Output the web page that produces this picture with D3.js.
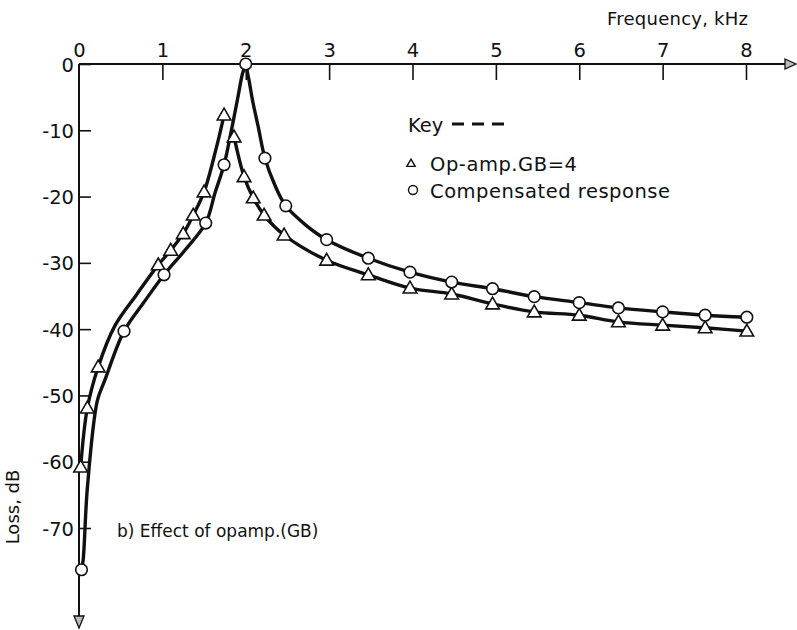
<!DOCTYPE html>
<html>
<head>
<meta charset="utf-8">
<script src="https://cdn.jsdelivr.net/npm/d3@7"></script>
<style>
  body { margin: 0; background: #fff; }
  svg { display: block; }
  text { font-family: "DejaVu Sans", sans-serif; fill: #111; }
</style>
</head>
<body>
<div id="chart"></div>
<script>
// tick values
var freqTicks = [0, 1, 2, 3, 4, 5, 6, 7, 8];
var lossTicks = [0, -10, -20, -30, -40, -50, -60, -70];

// op-amp GB=4 curve (triangles), traced [kHz, dB]
var opampLow = [[0.02,-60.8],[0.10,-51.9],[0.23,-45.7],[0.43,-39.5],[0.69,-34.8],[0.95,-30.3],[1.10,-28.1],
    [1.25,-25.6],[1.37,-22.8],[1.50,-19.3],[1.64,-13.0],[1.74,-7.7]];
var opampHigh = [[1.86,-11.0],[1.98,-17.0],[2.09,-20.2],[2.22,-22.8],[2.46,-25.8],[2.97,-29.6],[3.47,-31.8],
    [3.97,-33.8],[4.47,-34.7],[4.96,-36.2],[5.46,-37.4],[6.0,-37.9],[6.47,-38.9],[7.0,-39.4],[7.51,-39.8],[8.01,-40.3]];
var opampMarks = [[0.02,-60.8],[0.10,-51.9],[0.23,-45.7],[0.95,-30.3],[1.10,-28.1],[1.25,-25.6],[1.37,-22.8],
    [1.50,-19.3],[1.74,-7.7],[1.86,-11.0],[1.98,-17.0],[2.09,-20.2],[2.22,-22.8],[2.46,-25.8],[2.97,-29.6],
    [3.47,-31.8],[3.97,-33.8],[4.47,-34.7],[4.96,-36.2],[5.46,-37.4],[6.0,-37.9],[6.47,-38.9],[7.0,-39.4],
    [7.51,-39.8],[8.01,-40.3]];

// compensated response (circles), traced [kHz, dB]
var compLow = [[0.03,-76.3],[0.05,-74.8],[0.10,-64.0],[0.22,-50.8],[0.31,-47.7],[0.54,-40.3],[0.77,-36.1],
    [1.02,-31.8],[1.27,-28.1],[1.52,-24.0],[1.63,-19.5],[1.74,-15.2],[1.82,-10.5],[1.90,-5.4],[1.96,-1.5],[2.0,0]];
var compHigh = [[2.0,0],[2.04,-2.5],[2.08,-5.4],[2.15,-9.5],[2.23,-14.2],[2.35,-18.3],[2.48,-21.4],[2.72,-24.3],
    [2.97,-26.5],[3.47,-29.3],[3.97,-31.4],[4.47,-32.9],[4.96,-33.9],[5.46,-35.1],[6.0,-36.0],[6.47,-36.8],
    [7.0,-37.4],[7.51,-37.9],[8.01,-38.2]];
var compMarks = [[0.03,-76.3],[0.54,-40.3],[1.02,-31.8],[1.52,-24.0],[1.74,-15.2],[2.0,0],[2.23,-14.2],
    [2.48,-21.4],[2.97,-26.5],[3.47,-29.3],[3.97,-31.4],[4.47,-32.9],[4.96,-33.9],[5.46,-35.1],[6.0,-36.0],
    [6.47,-36.8],[7.0,-37.4],[7.51,-37.9],[8.01,-38.2]];

var width = 797, height = 630;

var x = d3.scaleLinear().domain([0, 8]).range([79, 746]);
var y = d3.scaleLinear().domain([0, -70]).range([64, 528]);

var svg = d3.select("#chart")
    .append("svg")
    .attr("width", width)
    .attr("height", height);

// axes
var xAxis = d3.axisTop(x)
    .tickValues(freqTicks)
    .tickSizeInner(-16)
    .tickSizeOuter(0)
    .tickPadding(7)
    .tickFormat(function(d){ return String(d); });

var yAxis = d3.axisLeft(y)
    .tickValues(lossTicks)
    .tickSizeInner(-12)
    .tickSizeOuter(0)
    .tickPadding(5)
    .tickFormat(function(d){ return String(d); });

var gx = svg.append("g")
    .attr("transform", "translate(0," + y(0) + ")")
    .call(xAxis);

var gy = svg.append("g")
    .attr("transform", "translate(" + x(0) + ",0)")
    .call(yAxis);

gx.select(".domain").remove();
gy.select(".domain").remove();
svg.selectAll(".tick line").attr("stroke", "#111").attr("stroke-width", 1.6);
svg.selectAll(".tick text").attr("font-size", 19.5).style("font-family", "'DejaVu Sans', sans-serif").attr("fill", "#111");
gy.selectAll(".tick text").attr("dy", "0.36em");
// the 0 tick on x sits on the y axis itself
gx.selectAll(".tick").filter(function(d){ return d === 0; }).select("line").remove();

// main axis lines with arrow heads
svg.append("line")
    .attr("x1", x(0)).attr("x2", 786)
    .attr("y1", y(0)).attr("y2", y(0))
    .attr("stroke", "#111").attr("stroke-width", 2);
svg.append("line")
    .attr("x1", x(0)).attr("x2", x(0))
    .attr("y1", y(0)).attr("y2", 617)
    .attr("stroke", "#111").attr("stroke-width", 2);
svg.append("path")
    .attr("d", "M785,59 L796,64 L785,69 Z")
    .attr("fill", "#bbb").attr("stroke", "#111").attr("stroke-width", 1.3);
svg.append("path")
    .attr("d", "M74,616 L79,628 L84,616 Z")
    .attr("fill", "#bbb").attr("stroke", "#111").attr("stroke-width", 1.3);

// curves
var line = d3.line()
    .x(function(d){ return x(d[0]); })
    .y(function(d){ return y(d[1]); })
    .curve(d3.curveCatmullRom.alpha(0.5));

[opampLow, opampHigh, compLow, compHigh].forEach(function(s){
    svg.append("path")
        .datum(s)
        .attr("d", line)
        .attr("fill", "none")
        .attr("stroke", "#111")
        .attr("stroke-width", 3.4);
});

var tri = d3.symbol().type(d3.symbolTriangle).size(80);

svg.selectAll(".tri")
    .data(opampMarks)
    .enter()
    .append("path")
    .attr("class", "tri")
    .attr("d", tri)
    .attr("transform", function(d){ return "translate(" + x(d[0]) + "," + (y(d[1]) + 1) + ")"; })
    .attr("fill", "#fff")
    .attr("stroke", "#111")
    .attr("stroke-width", 1.6);

svg.selectAll(".circ")
    .data(compMarks)
    .enter()
    .append("circle")
    .attr("class", "circ")
    .attr("cx", function(d){ return x(d[0]); })
    .attr("cy", function(d){ return y(d[1]); })
    .attr("r", 5.8)
    .attr("fill", "#fff")
    .attr("stroke", "#111")
    .attr("stroke-width", 1.6);

// axis titles
svg.append("text")
    .attr("x", 607).attr("y", 25)
    .attr("font-size", 18)
    .attr("textLength", 141)
    .attr("lengthAdjust", "spacing")
    .text("Frequency, kHz");

svg.append("text")
    .attr("transform", "translate(19,507) rotate(-90)")
    .attr("text-anchor", "middle")
    .attr("font-size", 18)
    .text("Loss, dB");

svg.append("text")
    .attr("x", 117).attr("y", 537)
    .attr("font-size", 17)
    .text("b) Effect of opamp.(GB)");

// key
svg.append("text")
    .attr("x", 408).attr("y", 132)
    .attr("font-size", 19.5)
    .text("Key");
svg.append("line")
    .attr("x1", 452).attr("x2", 509)
    .attr("y1", 124).attr("y2", 124)
    .attr("stroke", "#111").attr("stroke-width", 3)
    .attr("stroke-dasharray", "12,8");

svg.append("path")
    .attr("d", d3.symbol().type(d3.symbolTriangle).size(30))
    .attr("transform", "translate(411,164)")
    .attr("fill", "#fff").attr("stroke", "#111").attr("stroke-width", 1.4);
svg.append("text")
    .attr("x", 430).attr("y", 171)
    .attr("font-size", 19.5)
    .attr("textLength", 147)
    .attr("lengthAdjust", "spacing")
    .text("Op-amp.GB=4");

svg.append("circle")
    .attr("cx", 413).attr("cy", 190).attr("r", 4.5)
    .attr("fill", "#fff").attr("stroke", "#111").attr("stroke-width", 1.4);
svg.append("text")
    .attr("x", 430).attr("y", 198)
    .attr("font-size", 19.5)
    .attr("textLength", 240)
    .attr("lengthAdjust", "spacing")
    .text("Compensated response");
</script>
</body>
</html>
